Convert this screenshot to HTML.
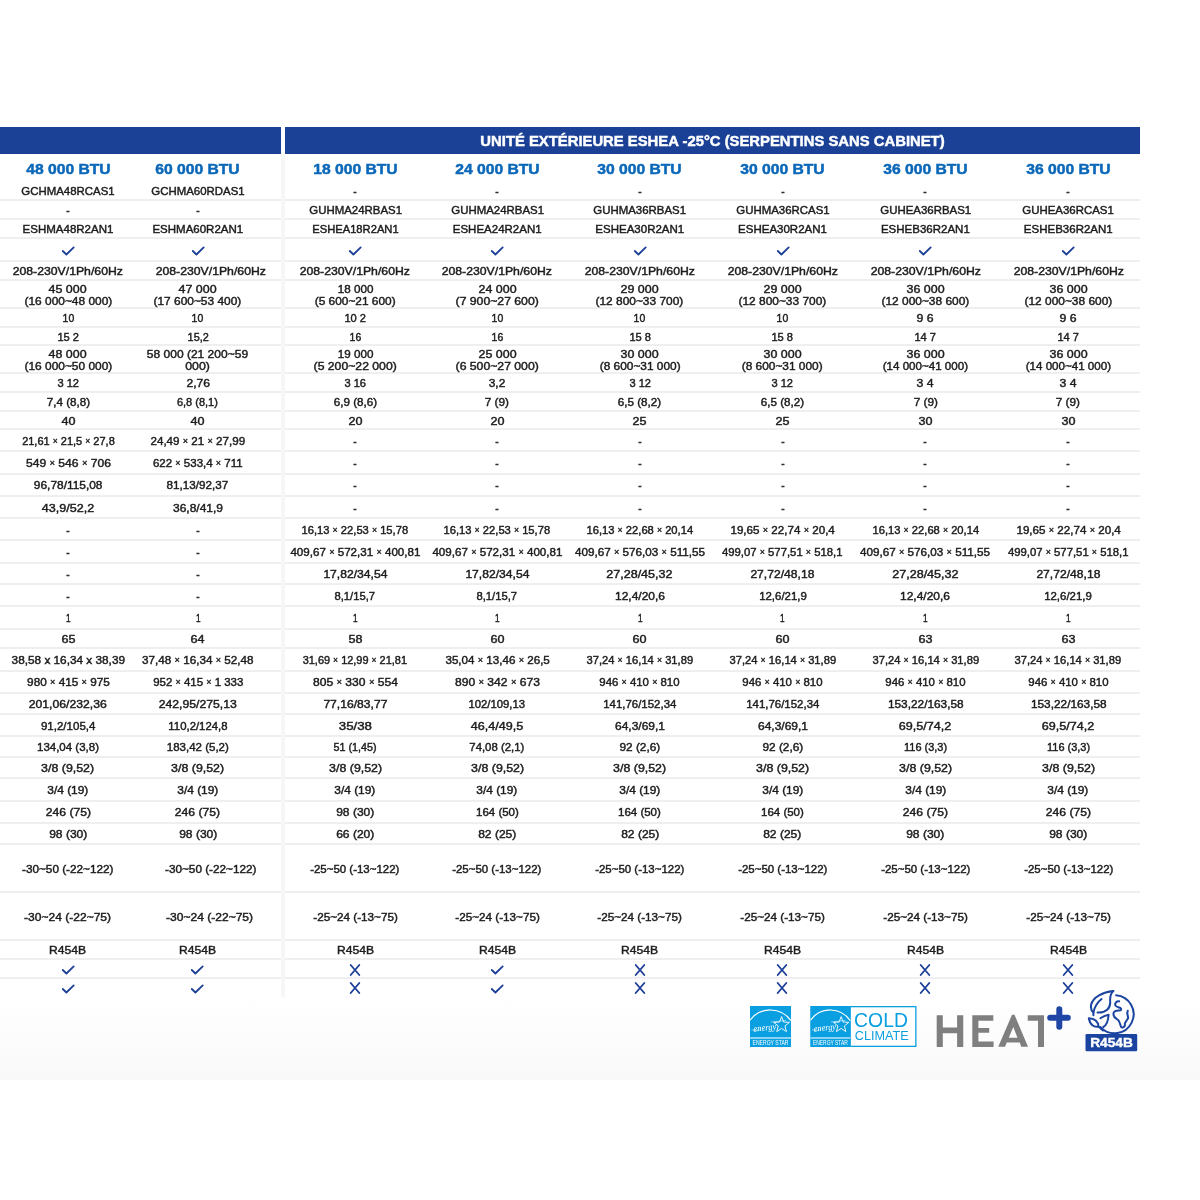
<!DOCTYPE html>
<html><head><meta charset="utf-8"><style>
html,body{margin:0;padding:0}
body{width:1200px;height:1200px;background:#fff;position:relative;overflow:hidden;font-family:"Liberation Sans",sans-serif}
.c{position:absolute;width:300px;text-align:center;font-size:11.5px;line-height:11.75px;height:11.75px;color:#1d1d1d;white-space:nowrap;-webkit-text-stroke:0.45px #1d1d1d}
.c span{display:inline-block;transform-origin:50% 50%}
.c span.m{display:inline;font-size:9px;vertical-align:1px;-webkit-text-stroke:0.35px #1d1d1d}
.b{position:absolute;width:300px;text-align:center;font-size:15px;line-height:20px;font-weight:bold;color:#0b68b9;white-space:nowrap;-webkit-text-stroke:0.5px #0b68b9}
.ln{position:absolute;height:2px;background:#efefef}
.ic{position:absolute;overflow:visible}
.bar{position:absolute;top:127px;height:27px;background:#1a4196}
</style></head><body><div id="wrap" style="position:absolute;left:0;top:0;width:1200px;height:1200px;will-change:transform">
<div style="position:absolute;left:0;top:997px;width:1200px;height:83px;background:linear-gradient(#ffffff,#f9f9fa)"></div>
<div class="bar" style="left:0;width:281px"></div>
<div class="bar" style="left:285px;width:855px"></div>
<div style="position:absolute;left:285px;width:855px;top:131.26px;line-height:20px;text-align:center;color:#fff;font-weight:bold;font-size:14.6px;white-space:nowrap;-webkit-text-stroke:0.45px #fff"><span style="display:inline-block;transform:scaleX(1.016)">UNITÉ EXTÉRIEURE ESHEA -25°C (SERPENTINS SANS CABINET)</span></div>
<div style="position:absolute;left:281px;top:154px;width:4px;height:843px;background:#f6f6f6"></div>
<div class="ln" style="top:198.70px;left:0;width:281px"></div><div class="ln" style="top:198.70px;left:285px;width:855px"></div><div class="ln" style="top:217.70px;left:0;width:281px"></div><div class="ln" style="top:217.70px;left:285px;width:855px"></div><div class="ln" style="top:236.60px;left:0;width:281px"></div><div class="ln" style="top:236.60px;left:285px;width:855px"></div><div class="ln" style="top:259.90px;left:0;width:281px"></div><div class="ln" style="top:259.90px;left:285px;width:855px"></div><div class="ln" style="top:279.20px;left:0;width:281px"></div><div class="ln" style="top:279.20px;left:285px;width:855px"></div><div class="ln" style="top:306.50px;left:0;width:281px"></div><div class="ln" style="top:306.50px;left:285px;width:855px"></div><div class="ln" style="top:325.50px;left:0;width:281px"></div><div class="ln" style="top:325.50px;left:285px;width:855px"></div><div class="ln" style="top:344.40px;left:0;width:281px"></div><div class="ln" style="top:344.40px;left:285px;width:855px"></div><div class="ln" style="top:371.50px;left:0;width:281px"></div><div class="ln" style="top:371.50px;left:285px;width:855px"></div><div class="ln" style="top:390.50px;left:0;width:281px"></div><div class="ln" style="top:390.50px;left:285px;width:855px"></div><div class="ln" style="top:409.60px;left:0;width:281px"></div><div class="ln" style="top:409.60px;left:285px;width:855px"></div><div class="ln" style="top:428.40px;left:0;width:281px"></div><div class="ln" style="top:428.40px;left:285px;width:855px"></div><div class="ln" style="top:450.25px;left:0;width:281px"></div><div class="ln" style="top:450.25px;left:285px;width:855px"></div><div class="ln" style="top:472.50px;left:0;width:281px"></div><div class="ln" style="top:472.50px;left:285px;width:855px"></div><div class="ln" style="top:494.60px;left:0;width:281px"></div><div class="ln" style="top:494.60px;left:285px;width:855px"></div><div class="ln" style="top:516.80px;left:0;width:281px"></div><div class="ln" style="top:516.80px;left:285px;width:855px"></div><div class="ln" style="top:539.25px;left:0;width:281px"></div><div class="ln" style="top:539.25px;left:285px;width:855px"></div><div class="ln" style="top:561.50px;left:0;width:281px"></div><div class="ln" style="top:561.50px;left:285px;width:855px"></div><div class="ln" style="top:583.40px;left:0;width:281px"></div><div class="ln" style="top:583.40px;left:285px;width:855px"></div><div class="ln" style="top:605.25px;left:0;width:281px"></div><div class="ln" style="top:605.25px;left:285px;width:855px"></div><div class="ln" style="top:627.75px;left:0;width:281px"></div><div class="ln" style="top:627.75px;left:285px;width:855px"></div><div class="ln" style="top:647.10px;left:0;width:281px"></div><div class="ln" style="top:647.10px;left:285px;width:855px"></div><div class="ln" style="top:669.60px;left:0;width:281px"></div><div class="ln" style="top:669.60px;left:285px;width:855px"></div><div class="ln" style="top:691.50px;left:0;width:281px"></div><div class="ln" style="top:691.50px;left:285px;width:855px"></div><div class="ln" style="top:713.40px;left:0;width:281px"></div><div class="ln" style="top:713.40px;left:285px;width:855px"></div><div class="ln" style="top:735.25px;left:0;width:281px"></div><div class="ln" style="top:735.25px;left:285px;width:855px"></div><div class="ln" style="top:755.50px;left:0;width:281px"></div><div class="ln" style="top:755.50px;left:285px;width:855px"></div><div class="ln" style="top:777.10px;left:0;width:281px"></div><div class="ln" style="top:777.10px;left:285px;width:855px"></div><div class="ln" style="top:799.60px;left:0;width:281px"></div><div class="ln" style="top:799.60px;left:285px;width:855px"></div><div class="ln" style="top:821.50px;left:0;width:281px"></div><div class="ln" style="top:821.50px;left:285px;width:855px"></div><div class="ln" style="top:843.20px;left:0;width:281px"></div><div class="ln" style="top:843.20px;left:285px;width:855px"></div><div class="ln" style="top:891.25px;left:0;width:281px"></div><div class="ln" style="top:891.25px;left:285px;width:855px"></div><div class="ln" style="top:938.75px;left:0;width:281px"></div><div class="ln" style="top:938.75px;left:285px;width:855px"></div><div class="ln" style="top:958.20px;left:0;width:281px"></div><div class="ln" style="top:958.20px;left:285px;width:855px"></div><div class="ln" style="top:976.90px;left:0;width:281px"></div><div class="ln" style="top:976.90px;left:285px;width:855px"></div>
<div class="b" style="left:-82.00px;top:158.56px"><span style="display:inline-block;transform:scaleX(1.045)">48 000 BTU</span></div><div class="b" style="left:47.80px;top:158.56px"><span style="display:inline-block;transform:scaleX(1.045)">60 000 BTU</span></div><div class="b" style="left:205.20px;top:158.56px"><span style="display:inline-block;transform:scaleX(1.045)">18 000 BTU</span></div><div class="b" style="left:347.20px;top:158.56px"><span style="display:inline-block;transform:scaleX(1.045)">24 000 BTU</span></div><div class="b" style="left:489.80px;top:158.56px"><span style="display:inline-block;transform:scaleX(1.045)">30 000 BTU</span></div><div class="b" style="left:632.50px;top:158.56px"><span style="display:inline-block;transform:scaleX(1.045)">30 000 BTU</span></div><div class="b" style="left:775.40px;top:158.56px"><span style="display:inline-block;transform:scaleX(1.045)">36 000 BTU</span></div><div class="b" style="left:918.30px;top:158.56px"><span style="display:inline-block;transform:scaleX(1.045)">36 000 BTU</span></div>
<div class="c" style="left:-82.00px;top:186.10px"><span style="transform:scaleX(0.994)">GCHMA48RCAS1</span></div><div class="c" style="left:47.80px;top:186.10px"><span style="transform:scaleX(0.994)">GCHMA60RDAS1</span></div><div class="c" style="left:205.20px;top:186.10px"><span style="transform:scaleX(0.888)">-</span></div><div class="c" style="left:347.20px;top:186.10px"><span style="transform:scaleX(0.888)">-</span></div><div class="c" style="left:489.80px;top:186.10px"><span style="transform:scaleX(0.888)">-</span></div><div class="c" style="left:632.50px;top:186.10px"><span style="transform:scaleX(0.888)">-</span></div><div class="c" style="left:775.40px;top:186.10px"><span style="transform:scaleX(0.888)">-</span></div><div class="c" style="left:918.30px;top:186.10px"><span style="transform:scaleX(0.888)">-</span></div><div class="c" style="left:-82.00px;top:205.10px"><span style="transform:scaleX(0.888)">-</span></div><div class="c" style="left:47.80px;top:205.10px"><span style="transform:scaleX(0.888)">-</span></div><div class="c" style="left:205.20px;top:205.10px"><span style="transform:scaleX(0.994)">GUHMA24RBAS1</span></div><div class="c" style="left:347.20px;top:205.10px"><span style="transform:scaleX(0.994)">GUHMA24RBAS1</span></div><div class="c" style="left:489.80px;top:205.10px"><span style="transform:scaleX(0.994)">GUHMA36RBAS1</span></div><div class="c" style="left:632.50px;top:205.10px"><span style="transform:scaleX(0.994)">GUHMA36RCAS1</span></div><div class="c" style="left:775.40px;top:205.10px"><span style="transform:scaleX(0.994)">GUHEA36RBAS1</span></div><div class="c" style="left:918.30px;top:205.10px"><span style="transform:scaleX(0.994)">GUHEA36RCAS1</span></div><div class="c" style="left:-82.00px;top:224.05px"><span style="transform:scaleX(1.000)">ESHMA48R2AN1</span></div><div class="c" style="left:47.80px;top:224.05px"><span style="transform:scaleX(1.000)">ESHMA60R2AN1</span></div><div class="c" style="left:205.20px;top:224.05px"><span style="transform:scaleX(0.973)">ESHEA18R2AN1</span></div><div class="c" style="left:347.20px;top:224.05px"><span style="transform:scaleX(1.000)">ESHEA24R2AN1</span></div><div class="c" style="left:489.80px;top:224.05px"><span style="transform:scaleX(1.000)">ESHEA30R2AN1</span></div><div class="c" style="left:632.50px;top:224.05px"><span style="transform:scaleX(1.000)">ESHEA30R2AN1</span></div><div class="c" style="left:775.40px;top:224.05px"><span style="transform:scaleX(1.000)">ESHEB36R2AN1</span></div><div class="c" style="left:918.30px;top:224.05px"><span style="transform:scaleX(1.000)">ESHEB36R2AN1</span></div><svg class="ic" style="left:60.00px;top:245.25px" width="16" height="12" viewBox="-8 -6 16 12"><path d="M-5.2 0 L-1.6 3.5 L5.7 -3.6" fill="none" stroke="#1c3f98" stroke-width="1.8" stroke-linecap="round" stroke-linejoin="round"/></svg><svg class="ic" style="left:189.80px;top:245.25px" width="16" height="12" viewBox="-8 -6 16 12"><path d="M-5.2 0 L-1.6 3.5 L5.7 -3.6" fill="none" stroke="#1c3f98" stroke-width="1.8" stroke-linecap="round" stroke-linejoin="round"/></svg><svg class="ic" style="left:347.20px;top:245.25px" width="16" height="12" viewBox="-8 -6 16 12"><path d="M-5.2 0 L-1.6 3.5 L5.7 -3.6" fill="none" stroke="#1c3f98" stroke-width="1.8" stroke-linecap="round" stroke-linejoin="round"/></svg><svg class="ic" style="left:489.20px;top:245.25px" width="16" height="12" viewBox="-8 -6 16 12"><path d="M-5.2 0 L-1.6 3.5 L5.7 -3.6" fill="none" stroke="#1c3f98" stroke-width="1.8" stroke-linecap="round" stroke-linejoin="round"/></svg><svg class="ic" style="left:631.80px;top:245.25px" width="16" height="12" viewBox="-8 -6 16 12"><path d="M-5.2 0 L-1.6 3.5 L5.7 -3.6" fill="none" stroke="#1c3f98" stroke-width="1.8" stroke-linecap="round" stroke-linejoin="round"/></svg><svg class="ic" style="left:774.50px;top:245.25px" width="16" height="12" viewBox="-8 -6 16 12"><path d="M-5.2 0 L-1.6 3.5 L5.7 -3.6" fill="none" stroke="#1c3f98" stroke-width="1.8" stroke-linecap="round" stroke-linejoin="round"/></svg><svg class="ic" style="left:917.40px;top:245.25px" width="16" height="12" viewBox="-8 -6 16 12"><path d="M-5.2 0 L-1.6 3.5 L5.7 -3.6" fill="none" stroke="#1c3f98" stroke-width="1.8" stroke-linecap="round" stroke-linejoin="round"/></svg><svg class="ic" style="left:1060.30px;top:245.25px" width="16" height="12" viewBox="-8 -6 16 12"><path d="M-5.2 0 L-1.6 3.5 L5.7 -3.6" fill="none" stroke="#1c3f98" stroke-width="1.8" stroke-linecap="round" stroke-linejoin="round"/></svg><div class="c" style="left:-82.00px;top:266.45px"><span style="transform:scaleX(1.064)">208-230V/1Ph/60Hz</span></div><div class="c" style="left:60.30px;top:266.45px"><span style="transform:scaleX(1.064)">208-230V/1Ph/60Hz</span></div><div class="c" style="left:205.20px;top:266.45px"><span style="transform:scaleX(1.064)">208-230V/1Ph/60Hz</span></div><div class="c" style="left:347.20px;top:266.45px"><span style="transform:scaleX(1.064)">208-230V/1Ph/60Hz</span></div><div class="c" style="left:489.80px;top:266.45px"><span style="transform:scaleX(1.064)">208-230V/1Ph/60Hz</span></div><div class="c" style="left:632.50px;top:266.45px"><span style="transform:scaleX(1.064)">208-230V/1Ph/60Hz</span></div><div class="c" style="left:775.40px;top:266.45px"><span style="transform:scaleX(1.064)">208-230V/1Ph/60Hz</span></div><div class="c" style="left:918.30px;top:266.45px"><span style="transform:scaleX(1.064)">208-230V/1Ph/60Hz</span></div><div class="c" style="left:-82.00px;top:283.87px"><span style="transform:scaleX(1.080)">45 000</span></div><div class="c" style="left:-82.00px;top:295.62px"><span style="transform:scaleX(1.036)">(16 000~48 000)</span></div><div class="c" style="left:47.80px;top:283.87px"><span style="transform:scaleX(1.080)">47 000</span></div><div class="c" style="left:47.80px;top:295.62px"><span style="transform:scaleX(1.036)">(17 600~53 400)</span></div><div class="c" style="left:205.20px;top:283.87px"><span style="transform:scaleX(1.012)">18 000</span></div><div class="c" style="left:205.20px;top:295.62px"><span style="transform:scaleX(1.032)">(5 600~21 600)</span></div><div class="c" style="left:347.20px;top:283.87px"><span style="transform:scaleX(1.080)">24 000</span></div><div class="c" style="left:347.20px;top:295.62px"><span style="transform:scaleX(1.062)">(7 900~27 600)</span></div><div class="c" style="left:489.80px;top:283.87px"><span style="transform:scaleX(1.080)">29 000</span></div><div class="c" style="left:489.80px;top:295.62px"><span style="transform:scaleX(1.036)">(12 800~33 700)</span></div><div class="c" style="left:632.50px;top:283.87px"><span style="transform:scaleX(1.080)">29 000</span></div><div class="c" style="left:632.50px;top:295.62px"><span style="transform:scaleX(1.036)">(12 800~33 700)</span></div><div class="c" style="left:775.40px;top:283.87px"><span style="transform:scaleX(1.080)">36 000</span></div><div class="c" style="left:775.40px;top:295.62px"><span style="transform:scaleX(1.036)">(12 000~38 600)</span></div><div class="c" style="left:918.30px;top:283.87px"><span style="transform:scaleX(1.080)">36 000</span></div><div class="c" style="left:918.30px;top:295.62px"><span style="transform:scaleX(1.036)">(12 000~38 600)</span></div><div class="c" style="left:-82.00px;top:312.90px"><span style="transform:scaleX(0.907)">10</span></div><div class="c" style="left:47.80px;top:312.90px"><span style="transform:scaleX(0.907)">10</span></div><div class="c" style="left:205.20px;top:312.90px"><span style="transform:scaleX(0.965)">10 2</span></div><div class="c" style="left:347.20px;top:312.90px"><span style="transform:scaleX(0.907)">10</span></div><div class="c" style="left:489.80px;top:312.90px"><span style="transform:scaleX(0.907)">10</span></div><div class="c" style="left:632.50px;top:312.90px"><span style="transform:scaleX(0.907)">10</span></div><div class="c" style="left:775.40px;top:312.90px"><span style="transform:scaleX(1.063)">9 6</span></div><div class="c" style="left:918.30px;top:312.90px"><span style="transform:scaleX(1.063)">9 6</span></div><div class="c" style="left:-82.00px;top:331.85px"><span style="transform:scaleX(0.965)">15 2</span></div><div class="c" style="left:47.80px;top:331.85px"><span style="transform:scaleX(0.947)">15,2</span></div><div class="c" style="left:205.20px;top:331.85px"><span style="transform:scaleX(0.907)">16</span></div><div class="c" style="left:347.20px;top:331.85px"><span style="transform:scaleX(0.907)">16</span></div><div class="c" style="left:489.80px;top:331.85px"><span style="transform:scaleX(0.965)">15 8</span></div><div class="c" style="left:632.50px;top:331.85px"><span style="transform:scaleX(0.965)">15 8</span></div><div class="c" style="left:775.40px;top:331.85px"><span style="transform:scaleX(0.965)">14 7</span></div><div class="c" style="left:918.30px;top:331.85px"><span style="transform:scaleX(0.965)">14 7</span></div><div class="c" style="left:-82.00px;top:348.97px"><span style="transform:scaleX(1.080)">48 000</span></div><div class="c" style="left:-82.00px;top:360.72px"><span style="transform:scaleX(1.036)">(16 000~50 000)</span></div><div class="c" style="left:47.80px;top:348.97px"><span style="transform:scaleX(1.045)">58 000 (21 200~59</span></div><div class="c" style="left:47.80px;top:360.72px"><span style="transform:scaleX(1.069)">000)</span></div><div class="c" style="left:205.20px;top:348.97px"><span style="transform:scaleX(1.012)">19 000</span></div><div class="c" style="left:205.20px;top:360.72px"><span style="transform:scaleX(1.062)">(5 200~22 000)</span></div><div class="c" style="left:347.20px;top:348.97px"><span style="transform:scaleX(1.080)">25 000</span></div><div class="c" style="left:347.20px;top:360.72px"><span style="transform:scaleX(1.062)">(6 500~27 000)</span></div><div class="c" style="left:489.80px;top:348.97px"><span style="transform:scaleX(1.080)">30 000</span></div><div class="c" style="left:489.80px;top:360.72px"><span style="transform:scaleX(1.032)">(8 600~31 000)</span></div><div class="c" style="left:632.50px;top:348.97px"><span style="transform:scaleX(1.080)">30 000</span></div><div class="c" style="left:632.50px;top:360.72px"><span style="transform:scaleX(1.032)">(8 600~31 000)</span></div><div class="c" style="left:775.40px;top:348.97px"><span style="transform:scaleX(1.080)">36 000</span></div><div class="c" style="left:775.40px;top:360.72px"><span style="transform:scaleX(1.008)">(14 000~41 000)</span></div><div class="c" style="left:918.30px;top:348.97px"><span style="transform:scaleX(1.080)">36 000</span></div><div class="c" style="left:918.30px;top:360.72px"><span style="transform:scaleX(1.008)">(14 000~41 000)</span></div><div class="c" style="left:-82.00px;top:377.90px"><span style="transform:scaleX(0.965)">3 12</span></div><div class="c" style="left:47.80px;top:377.90px"><span style="transform:scaleX(1.054)">2,76</span></div><div class="c" style="left:205.20px;top:377.90px"><span style="transform:scaleX(0.965)">3 16</span></div><div class="c" style="left:347.20px;top:377.90px"><span style="transform:scaleX(1.038)">3,2</span></div><div class="c" style="left:489.80px;top:377.90px"><span style="transform:scaleX(0.965)">3 12</span></div><div class="c" style="left:632.50px;top:377.90px"><span style="transform:scaleX(0.965)">3 12</span></div><div class="c" style="left:775.40px;top:377.90px"><span style="transform:scaleX(1.063)">3 4</span></div><div class="c" style="left:918.30px;top:377.90px"><span style="transform:scaleX(1.063)">3 4</span></div><div class="c" style="left:-82.00px;top:396.95px"><span style="transform:scaleX(1.013)">7,4 (8,8)</span></div><div class="c" style="left:47.80px;top:396.95px"><span style="transform:scaleX(0.957)">6,8 (8,1)</span></div><div class="c" style="left:205.20px;top:396.95px"><span style="transform:scaleX(1.013)">6,9 (8,6)</span></div><div class="c" style="left:347.20px;top:396.95px"><span style="transform:scaleX(1.023)">7 (9)</span></div><div class="c" style="left:489.80px;top:396.95px"><span style="transform:scaleX(1.013)">6,5 (8,2)</span></div><div class="c" style="left:632.50px;top:396.95px"><span style="transform:scaleX(1.013)">6,5 (8,2)</span></div><div class="c" style="left:775.40px;top:396.95px"><span style="transform:scaleX(1.023)">7 (9)</span></div><div class="c" style="left:918.30px;top:396.95px"><span style="transform:scaleX(1.023)">7 (9)</span></div><div class="c" style="left:-82.00px;top:415.90px"><span style="transform:scaleX(1.094)">40</span></div><div class="c" style="left:47.80px;top:415.90px"><span style="transform:scaleX(1.094)">40</span></div><div class="c" style="left:205.20px;top:415.90px"><span style="transform:scaleX(1.094)">20</span></div><div class="c" style="left:347.20px;top:415.90px"><span style="transform:scaleX(1.094)">20</span></div><div class="c" style="left:489.80px;top:415.90px"><span style="transform:scaleX(1.094)">25</span></div><div class="c" style="left:632.50px;top:415.90px"><span style="transform:scaleX(1.094)">25</span></div><div class="c" style="left:775.40px;top:415.90px"><span style="transform:scaleX(1.094)">30</span></div><div class="c" style="left:918.30px;top:415.90px"><span style="transform:scaleX(1.094)">30</span></div><div class="c" style="left:-82.00px;top:436.22px"><span style="transform:scaleX(0.956)">21,61 <span class="m">×</span> 21,5 <span class="m">×</span> 27,8</span></div><div class="c" style="left:47.80px;top:436.22px"><span style="transform:scaleX(1.012)">24,49 <span class="m">×</span> 21 <span class="m">×</span> 27,99</span></div><div class="c" style="left:205.20px;top:436.22px"><span style="transform:scaleX(0.888)">-</span></div><div class="c" style="left:347.20px;top:436.22px"><span style="transform:scaleX(0.888)">-</span></div><div class="c" style="left:489.80px;top:436.22px"><span style="transform:scaleX(0.888)">-</span></div><div class="c" style="left:632.50px;top:436.22px"><span style="transform:scaleX(0.888)">-</span></div><div class="c" style="left:775.40px;top:436.22px"><span style="transform:scaleX(0.888)">-</span></div><div class="c" style="left:918.30px;top:436.22px"><span style="transform:scaleX(0.888)">-</span></div><div class="c" style="left:-82.00px;top:458.27px"><span style="transform:scaleX(1.051)">549 <span class="m">×</span> 546 <span class="m">×</span> 706</span></div><div class="c" style="left:47.80px;top:458.27px"><span style="transform:scaleX(1.002)">622 <span class="m">×</span> 533,4 <span class="m">×</span> 711</span></div><div class="c" style="left:205.20px;top:458.27px"><span style="transform:scaleX(0.888)">-</span></div><div class="c" style="left:347.20px;top:458.27px"><span style="transform:scaleX(0.888)">-</span></div><div class="c" style="left:489.80px;top:458.27px"><span style="transform:scaleX(0.888)">-</span></div><div class="c" style="left:632.50px;top:458.27px"><span style="transform:scaleX(0.888)">-</span></div><div class="c" style="left:775.40px;top:458.27px"><span style="transform:scaleX(0.888)">-</span></div><div class="c" style="left:918.30px;top:458.27px"><span style="transform:scaleX(0.888)">-</span></div><div class="c" style="left:-82.00px;top:480.45px"><span style="transform:scaleX(1.035)">96,78/115,08</span></div><div class="c" style="left:47.80px;top:480.45px"><span style="transform:scaleX(1.014)">81,13/92,37</span></div><div class="c" style="left:205.20px;top:480.45px"><span style="transform:scaleX(0.888)">-</span></div><div class="c" style="left:347.20px;top:480.45px"><span style="transform:scaleX(0.888)">-</span></div><div class="c" style="left:489.80px;top:480.45px"><span style="transform:scaleX(0.888)">-</span></div><div class="c" style="left:632.50px;top:480.45px"><span style="transform:scaleX(0.888)">-</span></div><div class="c" style="left:775.40px;top:480.45px"><span style="transform:scaleX(0.888)">-</span></div><div class="c" style="left:918.30px;top:480.45px"><span style="transform:scaleX(0.888)">-</span></div><div class="c" style="left:-82.00px;top:502.60px"><span style="transform:scaleX(1.093)">43,9/52,2</span></div><div class="c" style="left:47.80px;top:502.60px"><span style="transform:scaleX(1.043)">36,8/41,9</span></div><div class="c" style="left:205.20px;top:502.60px"><span style="transform:scaleX(0.888)">-</span></div><div class="c" style="left:347.20px;top:502.60px"><span style="transform:scaleX(0.888)">-</span></div><div class="c" style="left:489.80px;top:502.60px"><span style="transform:scaleX(0.888)">-</span></div><div class="c" style="left:632.50px;top:502.60px"><span style="transform:scaleX(0.888)">-</span></div><div class="c" style="left:775.40px;top:502.60px"><span style="transform:scaleX(0.888)">-</span></div><div class="c" style="left:918.30px;top:502.60px"><span style="transform:scaleX(0.888)">-</span></div><div class="c" style="left:-82.00px;top:524.92px"><span style="transform:scaleX(0.888)">-</span></div><div class="c" style="left:47.80px;top:524.92px"><span style="transform:scaleX(0.888)">-</span></div><div class="c" style="left:205.20px;top:524.92px"><span style="transform:scaleX(0.972)">16,13 <span class="m">×</span> 22,53 <span class="m">×</span> 15,78</span></div><div class="c" style="left:347.20px;top:524.92px"><span style="transform:scaleX(0.972)">16,13 <span class="m">×</span> 22,53 <span class="m">×</span> 15,78</span></div><div class="c" style="left:489.80px;top:524.92px"><span style="transform:scaleX(0.972)">16,13 <span class="m">×</span> 22,68 <span class="m">×</span> 20,14</span></div><div class="c" style="left:632.50px;top:524.92px"><span style="transform:scaleX(1.011)">19,65 <span class="m">×</span> 22,74 <span class="m">×</span> 20,4</span></div><div class="c" style="left:775.40px;top:524.92px"><span style="transform:scaleX(0.972)">16,13 <span class="m">×</span> 22,68 <span class="m">×</span> 20,14</span></div><div class="c" style="left:918.30px;top:524.92px"><span style="transform:scaleX(1.011)">19,65 <span class="m">×</span> 22,74 <span class="m">×</span> 20,4</span></div><div class="c" style="left:-82.00px;top:547.27px"><span style="transform:scaleX(0.888)">-</span></div><div class="c" style="left:47.80px;top:547.27px"><span style="transform:scaleX(0.888)">-</span></div><div class="c" style="left:205.20px;top:547.27px"><span style="transform:scaleX(1.009)">409,67 <span class="m">×</span> 572,31 <span class="m">×</span> 400,81</span></div><div class="c" style="left:347.20px;top:547.27px"><span style="transform:scaleX(1.009)">409,67 <span class="m">×</span> 572,31 <span class="m">×</span> 400,81</span></div><div class="c" style="left:489.80px;top:547.27px"><span style="transform:scaleX(1.016)">409,67 <span class="m">×</span> 576,03 <span class="m">×</span> 511,55</span></div><div class="c" style="left:632.50px;top:547.27px"><span style="transform:scaleX(0.985)">499,07 <span class="m">×</span> 577,51 <span class="m">×</span> 518,1</span></div><div class="c" style="left:775.40px;top:547.27px"><span style="transform:scaleX(1.016)">409,67 <span class="m">×</span> 576,03 <span class="m">×</span> 511,55</span></div><div class="c" style="left:918.30px;top:547.27px"><span style="transform:scaleX(0.985)">499,07 <span class="m">×</span> 577,51 <span class="m">×</span> 518,1</span></div><div class="c" style="left:-82.00px;top:569.35px"><span style="transform:scaleX(0.888)">-</span></div><div class="c" style="left:47.80px;top:569.35px"><span style="transform:scaleX(0.888)">-</span></div><div class="c" style="left:205.20px;top:569.35px"><span style="transform:scaleX(1.053)">17,82/34,54</span></div><div class="c" style="left:347.20px;top:569.35px"><span style="transform:scaleX(1.053)">17,82/34,54</span></div><div class="c" style="left:489.80px;top:569.35px"><span style="transform:scaleX(1.093)">27,28/45,32</span></div><div class="c" style="left:632.50px;top:569.35px"><span style="transform:scaleX(1.053)">27,72/48,18</span></div><div class="c" style="left:775.40px;top:569.35px"><span style="transform:scaleX(1.093)">27,28/45,32</span></div><div class="c" style="left:918.30px;top:569.35px"><span style="transform:scaleX(1.053)">27,72/48,18</span></div><div class="c" style="left:-82.00px;top:591.22px"><span style="transform:scaleX(0.888)">-</span></div><div class="c" style="left:47.80px;top:591.22px"><span style="transform:scaleX(0.888)">-</span></div><div class="c" style="left:205.20px;top:591.22px"><span style="transform:scaleX(0.977)">8,1/15,7</span></div><div class="c" style="left:347.20px;top:591.22px"><span style="transform:scaleX(0.977)">8,1/15,7</span></div><div class="c" style="left:489.80px;top:591.22px"><span style="transform:scaleX(1.043)">12,4/20,6</span></div><div class="c" style="left:632.50px;top:591.22px"><span style="transform:scaleX(0.993)">12,6/21,9</span></div><div class="c" style="left:775.40px;top:591.22px"><span style="transform:scaleX(1.043)">12,4/20,6</span></div><div class="c" style="left:918.30px;top:591.22px"><span style="transform:scaleX(0.993)">12,6/21,9</span></div><div class="c" style="left:-82.00px;top:613.40px"><span style="transform:scaleX(0.719)">1</span></div><div class="c" style="left:47.80px;top:613.40px"><span style="transform:scaleX(0.719)">1</span></div><div class="c" style="left:205.20px;top:613.40px"><span style="transform:scaleX(0.719)">1</span></div><div class="c" style="left:347.20px;top:613.40px"><span style="transform:scaleX(0.719)">1</span></div><div class="c" style="left:489.80px;top:613.40px"><span style="transform:scaleX(0.719)">1</span></div><div class="c" style="left:632.50px;top:613.40px"><span style="transform:scaleX(0.719)">1</span></div><div class="c" style="left:775.40px;top:613.40px"><span style="transform:scaleX(0.719)">1</span></div><div class="c" style="left:918.30px;top:613.40px"><span style="transform:scaleX(0.719)">1</span></div><div class="c" style="left:-82.00px;top:634.32px"><span style="transform:scaleX(1.094)">65</span></div><div class="c" style="left:47.80px;top:634.32px"><span style="transform:scaleX(1.094)">64</span></div><div class="c" style="left:205.20px;top:634.32px"><span style="transform:scaleX(1.094)">58</span></div><div class="c" style="left:347.20px;top:634.32px"><span style="transform:scaleX(1.094)">60</span></div><div class="c" style="left:489.80px;top:634.32px"><span style="transform:scaleX(1.094)">60</span></div><div class="c" style="left:632.50px;top:634.32px"><span style="transform:scaleX(1.094)">60</span></div><div class="c" style="left:775.40px;top:634.32px"><span style="transform:scaleX(1.094)">63</span></div><div class="c" style="left:918.30px;top:634.32px"><span style="transform:scaleX(1.094)">63</span></div><div class="c" style="left:-82.00px;top:655.25px"><span style="transform:scaleX(1.025)">38,58 x 16,34 x 38,39</span></div><div class="c" style="left:47.80px;top:655.25px"><span style="transform:scaleX(1.016)">37,48 <span class="m">×</span> 16,34 <span class="m">×</span> 52,48</span></div><div class="c" style="left:205.20px;top:655.25px"><span style="transform:scaleX(0.951)">31,69 <span class="m">×</span> 12,99 <span class="m">×</span> 21,81</span></div><div class="c" style="left:347.20px;top:655.25px"><span style="transform:scaleX(1.011)">35,04 <span class="m">×</span> 13,46 <span class="m">×</span> 26,5</span></div><div class="c" style="left:489.80px;top:655.25px"><span style="transform:scaleX(0.972)">37,24 <span class="m">×</span> 16,14 <span class="m">×</span> 31,89</span></div><div class="c" style="left:632.50px;top:655.25px"><span style="transform:scaleX(0.972)">37,24 <span class="m">×</span> 16,14 <span class="m">×</span> 31,89</span></div><div class="c" style="left:775.40px;top:655.25px"><span style="transform:scaleX(0.972)">37,24 <span class="m">×</span> 16,14 <span class="m">×</span> 31,89</span></div><div class="c" style="left:918.30px;top:655.25px"><span style="transform:scaleX(0.972)">37,24 <span class="m">×</span> 16,14 <span class="m">×</span> 31,89</span></div><div class="c" style="left:-82.00px;top:677.45px"><span style="transform:scaleX(1.022)">980 <span class="m">×</span> 415 <span class="m">×</span> 975</span></div><div class="c" style="left:47.80px;top:677.45px"><span style="transform:scaleX(0.997)">952 <span class="m">×</span> 415 <span class="m">×</span> 1 333</span></div><div class="c" style="left:205.20px;top:677.45px"><span style="transform:scaleX(1.051)">805 <span class="m">×</span> 330 <span class="m">×</span> 554</span></div><div class="c" style="left:347.20px;top:677.45px"><span style="transform:scaleX(1.051)">890 <span class="m">×</span> 342 <span class="m">×</span> 673</span></div><div class="c" style="left:489.80px;top:677.45px"><span style="transform:scaleX(0.992)">946 <span class="m">×</span> 410 <span class="m">×</span> 810</span></div><div class="c" style="left:632.50px;top:677.45px"><span style="transform:scaleX(0.992)">946 <span class="m">×</span> 410 <span class="m">×</span> 810</span></div><div class="c" style="left:775.40px;top:677.45px"><span style="transform:scaleX(0.992)">946 <span class="m">×</span> 410 <span class="m">×</span> 810</span></div><div class="c" style="left:918.30px;top:677.45px"><span style="transform:scaleX(0.992)">946 <span class="m">×</span> 410 <span class="m">×</span> 810</span></div><div class="c" style="left:-82.00px;top:699.35px"><span style="transform:scaleX(1.061)">201,06/232,36</span></div><div class="c" style="left:47.80px;top:699.35px"><span style="transform:scaleX(1.061)">242,95/275,13</span></div><div class="c" style="left:205.20px;top:699.35px"><span style="transform:scaleX(1.053)">77,16/83,77</span></div><div class="c" style="left:347.20px;top:699.35px"><span style="transform:scaleX(0.983)">102/109,13</span></div><div class="c" style="left:489.80px;top:699.35px"><span style="transform:scaleX(0.995)">141,76/152,34</span></div><div class="c" style="left:632.50px;top:699.35px"><span style="transform:scaleX(0.995)">141,76/152,34</span></div><div class="c" style="left:775.40px;top:699.35px"><span style="transform:scaleX(1.028)">153,22/163,58</span></div><div class="c" style="left:918.30px;top:699.35px"><span style="transform:scaleX(1.028)">153,22/163,58</span></div><div class="c" style="left:-82.00px;top:721.22px"><span style="transform:scaleX(1.004)">91,2/105,4</span></div><div class="c" style="left:47.80px;top:721.22px"><span style="transform:scaleX(0.988)">110,2/124,8</span></div><div class="c" style="left:205.20px;top:721.22px"><span style="transform:scaleX(1.154)">35/38</span></div><div class="c" style="left:347.20px;top:721.22px"><span style="transform:scaleX(1.093)">46,4/49,5</span></div><div class="c" style="left:489.80px;top:721.22px"><span style="transform:scaleX(1.043)">64,3/69,1</span></div><div class="c" style="left:632.50px;top:721.22px"><span style="transform:scaleX(1.043)">64,3/69,1</span></div><div class="c" style="left:775.40px;top:721.22px"><span style="transform:scaleX(1.093)">69,5/74,2</span></div><div class="c" style="left:918.30px;top:721.22px"><span style="transform:scaleX(1.093)">69,5/74,2</span></div><div class="c" style="left:-82.00px;top:742.27px"><span style="transform:scaleX(1.000)">134,04 (3,8)</span></div><div class="c" style="left:47.80px;top:742.27px"><span style="transform:scaleX(1.000)">183,42 (5,2)</span></div><div class="c" style="left:205.20px;top:742.27px"><span style="transform:scaleX(0.934)">51 (1,45)</span></div><div class="c" style="left:347.20px;top:742.27px"><span style="transform:scaleX(0.989)">74,08 (2,1)</span></div><div class="c" style="left:489.80px;top:742.27px"><span style="transform:scaleX(1.029)">92 (2,6)</span></div><div class="c" style="left:632.50px;top:742.27px"><span style="transform:scaleX(1.029)">92 (2,6)</span></div><div class="c" style="left:775.40px;top:742.27px"><span style="transform:scaleX(0.952)">116 (3,3)</span></div><div class="c" style="left:918.30px;top:742.27px"><span style="transform:scaleX(0.952)">116 (3,3)</span></div><div class="c" style="left:-82.00px;top:763.20px"><span style="transform:scaleX(1.077)">3/8 (9,52)</span></div><div class="c" style="left:47.80px;top:763.20px"><span style="transform:scaleX(1.077)">3/8 (9,52)</span></div><div class="c" style="left:205.20px;top:763.20px"><span style="transform:scaleX(1.077)">3/8 (9,52)</span></div><div class="c" style="left:347.20px;top:763.20px"><span style="transform:scaleX(1.077)">3/8 (9,52)</span></div><div class="c" style="left:489.80px;top:763.20px"><span style="transform:scaleX(1.077)">3/8 (9,52)</span></div><div class="c" style="left:632.50px;top:763.20px"><span style="transform:scaleX(1.077)">3/8 (9,52)</span></div><div class="c" style="left:775.40px;top:763.20px"><span style="transform:scaleX(1.077)">3/8 (9,52)</span></div><div class="c" style="left:918.30px;top:763.20px"><span style="transform:scaleX(1.077)">3/8 (9,52)</span></div><div class="c" style="left:-82.00px;top:785.25px"><span style="transform:scaleX(1.035)">3/4 (19)</span></div><div class="c" style="left:47.80px;top:785.25px"><span style="transform:scaleX(1.035)">3/4 (19)</span></div><div class="c" style="left:205.20px;top:785.25px"><span style="transform:scaleX(1.035)">3/4 (19)</span></div><div class="c" style="left:347.20px;top:785.25px"><span style="transform:scaleX(1.035)">3/4 (19)</span></div><div class="c" style="left:489.80px;top:785.25px"><span style="transform:scaleX(1.035)">3/4 (19)</span></div><div class="c" style="left:632.50px;top:785.25px"><span style="transform:scaleX(1.035)">3/4 (19)</span></div><div class="c" style="left:775.40px;top:785.25px"><span style="transform:scaleX(1.035)">3/4 (19)</span></div><div class="c" style="left:918.30px;top:785.25px"><span style="transform:scaleX(1.035)">3/4 (19)</span></div><div class="c" style="left:-82.00px;top:807.45px"><span style="transform:scaleX(1.055)">246 (75)</span></div><div class="c" style="left:47.80px;top:807.45px"><span style="transform:scaleX(1.055)">246 (75)</span></div><div class="c" style="left:205.20px;top:807.45px"><span style="transform:scaleX(1.048)">98 (30)</span></div><div class="c" style="left:347.20px;top:807.45px"><span style="transform:scaleX(0.999)">164 (50)</span></div><div class="c" style="left:489.80px;top:807.45px"><span style="transform:scaleX(0.999)">164 (50)</span></div><div class="c" style="left:632.50px;top:807.45px"><span style="transform:scaleX(0.999)">164 (50)</span></div><div class="c" style="left:775.40px;top:807.45px"><span style="transform:scaleX(1.055)">246 (75)</span></div><div class="c" style="left:918.30px;top:807.45px"><span style="transform:scaleX(1.055)">246 (75)</span></div><div class="c" style="left:-82.00px;top:829.25px"><span style="transform:scaleX(1.048)">98 (30)</span></div><div class="c" style="left:47.80px;top:829.25px"><span style="transform:scaleX(1.048)">98 (30)</span></div><div class="c" style="left:205.20px;top:829.25px"><span style="transform:scaleX(1.048)">66 (20)</span></div><div class="c" style="left:347.20px;top:829.25px"><span style="transform:scaleX(1.048)">82 (25)</span></div><div class="c" style="left:489.80px;top:829.25px"><span style="transform:scaleX(1.048)">82 (25)</span></div><div class="c" style="left:632.50px;top:829.25px"><span style="transform:scaleX(1.048)">82 (25)</span></div><div class="c" style="left:775.40px;top:829.25px"><span style="transform:scaleX(1.048)">98 (30)</span></div><div class="c" style="left:918.30px;top:829.25px"><span style="transform:scaleX(1.048)">98 (30)</span></div><div class="c" style="left:-82.00px;top:864.12px"><span style="transform:scaleX(1.023)">-30~50 (-22~122)</span></div><div class="c" style="left:60.50px;top:864.12px"><span style="transform:scaleX(1.023)">-30~50 (-22~122)</span></div><div class="c" style="left:205.20px;top:864.12px"><span style="transform:scaleX(0.997)">-25~50 (-13~122)</span></div><div class="c" style="left:347.20px;top:864.12px"><span style="transform:scaleX(0.997)">-25~50 (-13~122)</span></div><div class="c" style="left:489.80px;top:864.12px"><span style="transform:scaleX(0.997)">-25~50 (-13~122)</span></div><div class="c" style="left:632.50px;top:864.12px"><span style="transform:scaleX(0.997)">-25~50 (-13~122)</span></div><div class="c" style="left:775.40px;top:864.12px"><span style="transform:scaleX(0.997)">-25~50 (-13~122)</span></div><div class="c" style="left:918.30px;top:864.12px"><span style="transform:scaleX(0.997)">-25~50 (-13~122)</span></div><div class="c" style="left:-82.00px;top:911.90px"><span style="transform:scaleX(1.047)">-30~24 (-22~75)</span></div><div class="c" style="left:60.00px;top:911.90px"><span style="transform:scaleX(1.047)">-30~24 (-22~75)</span></div><div class="c" style="left:205.20px;top:911.90px"><span style="transform:scaleX(1.018)">-25~24 (-13~75)</span></div><div class="c" style="left:347.20px;top:911.90px"><span style="transform:scaleX(1.018)">-25~24 (-13~75)</span></div><div class="c" style="left:489.80px;top:911.90px"><span style="transform:scaleX(1.018)">-25~24 (-13~75)</span></div><div class="c" style="left:632.50px;top:911.90px"><span style="transform:scaleX(1.018)">-25~24 (-13~75)</span></div><div class="c" style="left:775.40px;top:911.90px"><span style="transform:scaleX(1.018)">-25~24 (-13~75)</span></div><div class="c" style="left:918.30px;top:911.90px"><span style="transform:scaleX(1.018)">-25~24 (-13~75)</span></div><div class="c" style="left:-82.00px;top:945.37px"><span style="transform:scaleX(1.052)">R454B</span></div><div class="c" style="left:47.80px;top:945.37px"><span style="transform:scaleX(1.052)">R454B</span></div><div class="c" style="left:205.20px;top:945.37px"><span style="transform:scaleX(1.052)">R454B</span></div><div class="c" style="left:347.20px;top:945.37px"><span style="transform:scaleX(1.052)">R454B</span></div><div class="c" style="left:489.80px;top:945.37px"><span style="transform:scaleX(1.052)">R454B</span></div><div class="c" style="left:632.50px;top:945.37px"><span style="transform:scaleX(1.052)">R454B</span></div><div class="c" style="left:775.40px;top:945.37px"><span style="transform:scaleX(1.052)">R454B</span></div><div class="c" style="left:918.30px;top:945.37px"><span style="transform:scaleX(1.052)">R454B</span></div><svg class="ic" style="left:59.50px;top:963.80px" width="16" height="12" viewBox="-8 -6 16 12"><path d="M-5.2 0 L-1.6 3.5 L5.7 -3.6" fill="none" stroke="#1c3f98" stroke-width="1.8" stroke-linecap="round" stroke-linejoin="round"/></svg><svg class="ic" style="left:189.30px;top:963.80px" width="16" height="12" viewBox="-8 -6 16 12"><path d="M-5.2 0 L-1.6 3.5 L5.7 -3.6" fill="none" stroke="#1c3f98" stroke-width="1.8" stroke-linecap="round" stroke-linejoin="round"/></svg><svg class="ic" style="left:347.00px;top:961.85px" width="16" height="16" viewBox="-8 -8 16 16"><path d="M-4.3 -5.0 L4.3 5.0 M4.3 -5.0 L-4.3 5.0" fill="none" stroke="#1c3f98" stroke-width="1.85" stroke-linecap="round"/></svg><svg class="ic" style="left:488.70px;top:963.80px" width="16" height="12" viewBox="-8 -6 16 12"><path d="M-5.2 0 L-1.6 3.5 L5.7 -3.6" fill="none" stroke="#1c3f98" stroke-width="1.8" stroke-linecap="round" stroke-linejoin="round"/></svg><svg class="ic" style="left:631.60px;top:961.85px" width="16" height="16" viewBox="-8 -8 16 16"><path d="M-4.3 -5.0 L4.3 5.0 M4.3 -5.0 L-4.3 5.0" fill="none" stroke="#1c3f98" stroke-width="1.85" stroke-linecap="round"/></svg><svg class="ic" style="left:774.30px;top:961.85px" width="16" height="16" viewBox="-8 -8 16 16"><path d="M-4.3 -5.0 L4.3 5.0 M4.3 -5.0 L-4.3 5.0" fill="none" stroke="#1c3f98" stroke-width="1.85" stroke-linecap="round"/></svg><svg class="ic" style="left:917.20px;top:961.85px" width="16" height="16" viewBox="-8 -8 16 16"><path d="M-4.3 -5.0 L4.3 5.0 M4.3 -5.0 L-4.3 5.0" fill="none" stroke="#1c3f98" stroke-width="1.85" stroke-linecap="round"/></svg><svg class="ic" style="left:1060.10px;top:961.85px" width="16" height="16" viewBox="-8 -8 16 16"><path d="M-4.3 -5.0 L4.3 5.0 M4.3 -5.0 L-4.3 5.0" fill="none" stroke="#1c3f98" stroke-width="1.85" stroke-linecap="round"/></svg><svg class="ic" style="left:59.50px;top:983.10px" width="16" height="12" viewBox="-8 -6 16 12"><path d="M-5.2 0 L-1.6 3.5 L5.7 -3.6" fill="none" stroke="#1c3f98" stroke-width="1.8" stroke-linecap="round" stroke-linejoin="round"/></svg><svg class="ic" style="left:189.30px;top:983.10px" width="16" height="12" viewBox="-8 -6 16 12"><path d="M-5.2 0 L-1.6 3.5 L5.7 -3.6" fill="none" stroke="#1c3f98" stroke-width="1.8" stroke-linecap="round" stroke-linejoin="round"/></svg><svg class="ic" style="left:347.00px;top:980.35px" width="16" height="16" viewBox="-8 -8 16 16"><path d="M-4.3 -5.0 L4.3 5.0 M4.3 -5.0 L-4.3 5.0" fill="none" stroke="#1c3f98" stroke-width="1.85" stroke-linecap="round"/></svg><svg class="ic" style="left:488.70px;top:983.10px" width="16" height="12" viewBox="-8 -6 16 12"><path d="M-5.2 0 L-1.6 3.5 L5.7 -3.6" fill="none" stroke="#1c3f98" stroke-width="1.8" stroke-linecap="round" stroke-linejoin="round"/></svg><svg class="ic" style="left:631.60px;top:980.35px" width="16" height="16" viewBox="-8 -8 16 16"><path d="M-4.3 -5.0 L4.3 5.0 M4.3 -5.0 L-4.3 5.0" fill="none" stroke="#1c3f98" stroke-width="1.85" stroke-linecap="round"/></svg><svg class="ic" style="left:774.30px;top:980.35px" width="16" height="16" viewBox="-8 -8 16 16"><path d="M-4.3 -5.0 L4.3 5.0 M4.3 -5.0 L-4.3 5.0" fill="none" stroke="#1c3f98" stroke-width="1.85" stroke-linecap="round"/></svg><svg class="ic" style="left:917.20px;top:980.35px" width="16" height="16" viewBox="-8 -8 16 16"><path d="M-4.3 -5.0 L4.3 5.0 M4.3 -5.0 L-4.3 5.0" fill="none" stroke="#1c3f98" stroke-width="1.85" stroke-linecap="round"/></svg><svg class="ic" style="left:1060.10px;top:980.35px" width="16" height="16" viewBox="-8 -8 16 16"><path d="M-4.3 -5.0 L4.3 5.0 M4.3 -5.0 L-4.3 5.0" fill="none" stroke="#1c3f98" stroke-width="1.85" stroke-linecap="round"/></svg>
<svg style="position:absolute;left:0;top:0" width="1200" height="1200" viewBox="0 0 1200 1200">
<defs>
<g id="es">
<rect x="0" y="0" width="41" height="41" fill="#0a9fe0"/>
<path d="M0 14.2 A25.3 25.3 0 0 1 41 14.6" fill="none" stroke="#fff" stroke-width="1.1"/>
<path d="M31.60 10.60 L33.66 16.07 L39.49 16.34 L34.93 19.98 L36.48 25.61 L31.60 22.40 L26.72 25.61 L28.27 19.98 L23.71 16.34 L29.54 16.07 Z" fill="none" stroke="#fff" stroke-width="0.9" stroke-linejoin="round"/>
<text x="15" y="24.5" font-family="Liberation Serif" font-style="italic" font-size="9" fill="#fff" text-anchor="middle" textLength="23" lengthAdjust="spacingAndGlyphs" transform="rotate(-6 15 23)">energy</text>
<path d="M1.5 23.8 Q6 25.5 11 23.6" fill="none" stroke="#fff" stroke-width="0.5"/>
<path d="M21 16 L36 14.5" fill="none" stroke="#fff" stroke-width="0.5"/>
<rect x="0" y="31.1" width="41" height="1.8" fill="#9ad6f3"/>
<text x="20.5" y="39.3" font-family="Liberation Sans" font-size="6.6" fill="#fff" text-anchor="middle" textLength="36" lengthAdjust="spacingAndGlyphs">ENERGY STAR</text>
</g>
</defs>
<use href="#es" x="750" y="1006"/>
<g transform="translate(810.5 1006)">
<rect x="0" y="0" width="106" height="41" fill="#0a9fe0"/>
<rect x="40.3" y="1.3" width="64.4" height="38.4" fill="#fff"/>
</g>
<g transform="translate(810.5 1006) scale(0.97 1)"><use href="#es" x="0" y="0"/></g>
<text x="881" y="1027" font-family="Liberation Sans" font-size="19.6" fill="#0a9fe0" text-anchor="middle" textLength="53.8" lengthAdjust="spacingAndGlyphs">COLD</text>
<text x="881.7" y="1040.4" font-family="Liberation Sans" font-size="12.6" fill="#0a9fe0" text-anchor="middle" textLength="53.8" lengthAdjust="spacingAndGlyphs">CLIMATE</text>
<g fill="#7f7f7f">
<path d="M936.7 1015.25h6.1v12.25h14.3v-12.25h6.15v31.65h-6.15v-13.6h-14.3v13.6h-6.1z"/>
<path d="M972.3 1015.25h21v5.55h-14.9v7.3h10.8v4.65h-10.8v8.75h15.2v5.4h-21.3z"/>
<path d="M1012 1014.75h2.5l13.5 32h-6.75l-1.5-4.25h-13l-1.75 4.25h-6.75z M1013.25 1027l-4.5 10.75h8.75z" fill-rule="evenodd"/>
<path d="M1027.75 1015.25h16.25v31.65h-6v-26.15h-10.25z"/>
</g>
<path d="M1059.3 1009.2v17.6 M1050.2 1017.7h17.6" stroke="#1f45a5" stroke-width="6" stroke-linecap="round" fill="none"/>
<g fill="none" stroke="#1a44a0" stroke-width="2" stroke-linecap="round" stroke-linejoin="round">
<path d="M1116.1 995.3 A19 19 0 1 1 1100.6 1027.1"/>
<path d="M1113.3 991 C1103 992 1093 997 1091.2 1004.5 C1090.5 1008 1091.5 1011 1093.4 1012.5 L1093.4 1015.3"/>
<path d="M1113.3 991 C1110.5 993.5 1109.8 997 1110.2 1002 C1110.5 1008 1106 1013 1097.5 1012.5"/>
<path d="M1101.6 999 C1097 1002.5 1094.5 1007 1093.4 1012.5"/>
<path d="M1088.8 1018.3 C1094 1018.5 1098 1021 1098.5 1026.6 C1094 1027.5 1090 1025 1088.8 1018.3 Z"/>
<path d="M1098.5 1026.6 L1103 1030.5"/>
<path d="M1100.4 1018.3 C1103 1016.5 1105.5 1015.5 1108.6 1014.8 C1108.3 1020 1107 1025 1103.3 1027"/>
<path d="M1119.1 1001.3 C1116.5 1001 1115 1003 1115.2 1005 C1115.4 1006.8 1118.5 1007.2 1120.5 1008 C1121.8 1008.8 1121.2 1010.6 1119.4 1010.6 C1116.5 1010.3 1113.2 1011 1113.4 1014 C1113.6 1016 1114.8 1018 1116.6 1018.9 C1118.6 1019.8 1119.2 1021 1119.6 1022.5 L1121 1026.8 C1121.8 1028.2 1123.8 1027.7 1124.8 1025.8 L1124.9 1023.2 L1128.2 1018 L1127.2 1013 L1127.8 1010.7"/>
</g>
<rect x="1085.5" y="1034" width="51.7" height="17.2" rx="1.2" fill="#1a44a0"/>
<text x="1111.5" y="1047.1" font-family="Liberation Sans" font-weight="bold" font-size="13.5" fill="#fff" stroke="#fff" stroke-width="0.4" text-anchor="middle" textLength="42.6" lengthAdjust="spacingAndGlyphs">R454B</text>
</svg>

</div></body></html>
